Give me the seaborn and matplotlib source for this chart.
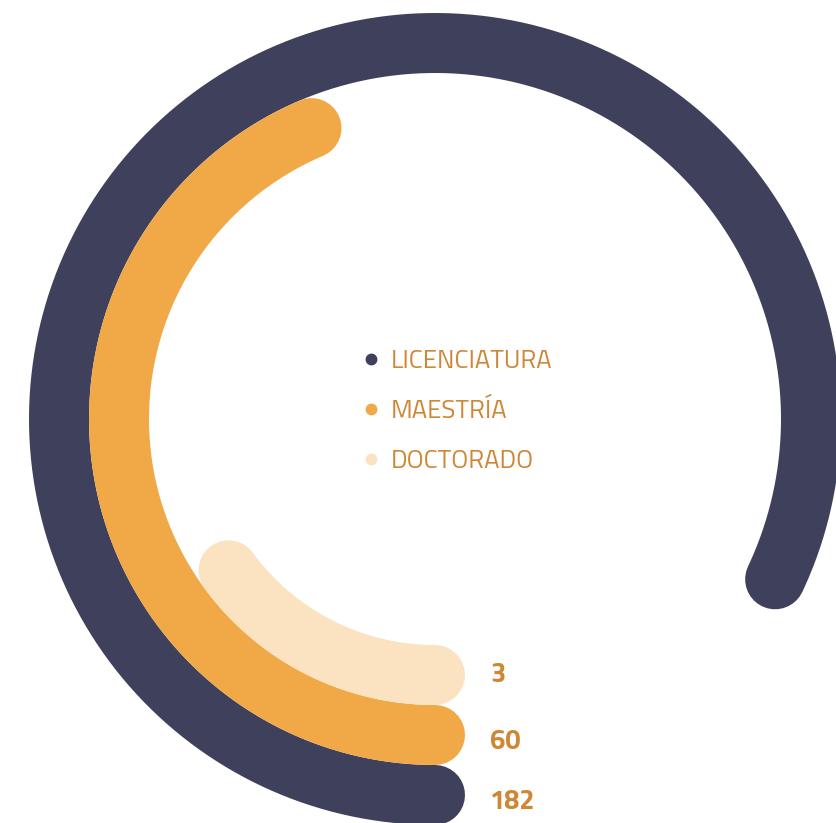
import numpy as np
import pandas as pd
import matplotlib
matplotlib.use("Agg")
import matplotlib.pyplot as plt
from matplotlib.lines import Line2D
import seaborn as sns

# Graduates by degree level
categories = ["LICENCIATURA", "MAESTRÍA", "DOCTORADO"]
counts = [182, 60, 3]
colors = ["#3F415C", "#F1A948", "#FBE3C2"]
label_color = "#CE8734"


def sweep_degrees(value):
    # angular scale of the radial bars (compressed so small counts stay visible)
    return 39.3 + 6.7 * value ** 0.7


sns.set_theme(style="white")
plt.rcParams["font.family"] = ["Titillium Web", "DejaVu Sans"]

W, H, DPI = 837, 823, 100
PX = 72 / DPI  # points per pixel
fig = plt.figure(figsize=(W / DPI, H / DPI), dpi=DPI)
fig.patch.set_facecolor("white")

# polar axes measured in pixels: centre of the rings and outer limit
cx, cy, R = 435, 419, 420
ax = fig.add_axes([(cx - R) / W, (H - cy - R) / H, 2 * R / W, 2 * R / H],
                  projection="polar")
ax.set_theta_zero_location("S")
ax.set_theta_direction(-1)
ax.set_ylim(0, R)
ax.set_axis_off()

ring_width = 60
outer_radius = 376
rows = []
for i, (cat, val) in enumerate(zip(categories, counts)):
    radius = outer_radius - i * ring_width
    theta = np.linspace(0, np.deg2rad(sweep_degrees(val)), 400)
    rows.append(pd.DataFrame({"theta": theta, "r": radius, "category": cat}))
df = pd.concat(rows, ignore_index=True)

sns.lineplot(data=df, x="theta", y="r", hue="category", hue_order=categories,
             palette=dict(zip(categories, colors)), estimator=None, sort=False,
             linewidth=ring_width * PX, solid_capstyle="round", legend=False,
             ax=ax)
ax.set_xlabel("")
ax.set_ylabel("")

# value labels to the right of the starting caps (vertical nudge in pixels)
label_dy = [-7.5, -7.5, -0.5]
for i, val in enumerate(counts):
    radius = outer_radius - i * ring_width
    ax.annotate(f"{val}", xy=(0, radius), xytext=(55 * PX, label_dy[i] * PX),
                textcoords="offset points", ha="left", va="center",
                fontsize=19.5, fontweight="bold", color=label_color,
                annotation_clip=False)

handles = [Line2D([], [], linestyle="none", marker="o", markersize=7.5,
                  markerfacecolor=c, markeredgecolor=c) for c in colors]
leg = fig.legend(handles, categories, loc="center left",
                 bbox_to_anchor=(361 / W, 1 - 412 / H),
                 bbox_transform=fig.transFigure, frameon=False,
                 fontsize=18.5, handlelength=0.8, handletextpad=0.35,
                 labelspacing=1.0, borderpad=0, borderaxespad=0)
for t in leg.get_texts():
    t.set_color(label_color)

fig.savefig("out.png", dpi=DPI, facecolor="white")
